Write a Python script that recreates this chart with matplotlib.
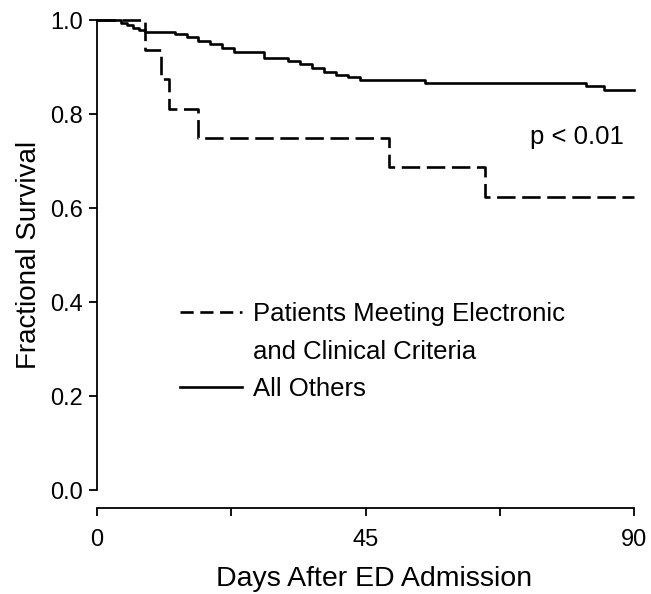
import numpy as np
import matplotlib
matplotlib.use('Agg')
import matplotlib.pyplot as plt
from matplotlib.lines import Line2D

plt.rcParams['font.family'] = ['Liberation Sans', 'DejaVu Sans']

# Kaplan-Meier step data (days, survival)
meeting_days = [0, 8, 10.8, 12, 17, 49, 65, 90]
meeting_surv = [1.0, 0.9375, 0.875, 0.8125, 0.75, 0.6875, 0.625, 0.625]

others_days = [0, 4, 5, 6, 7, 8, 13, 15, 17, 19, 21, 23, 28, 32, 34, 36, 38, 40,
               42, 44, 55, 82, 85, 90]
others_surv = [1.0, 0.995, 0.99, 0.985, 0.98, 0.976, 0.971, 0.964, 0.957, 0.950,
               0.941, 0.933, 0.921, 0.914, 0.907, 0.898, 0.890, 0.884, 0.879,
               0.874, 0.866, 0.860, 0.853, 0.853]

xticks = [0, 22.5, 45, 67.5, 90]
xticklabels = ['0', '', '45', '', '90']
yticks = [0.0, 0.2, 0.4, 0.6, 0.8, 1.0]

fig = plt.figure(figsize=(6.51, 5.94), dpi=100)
ax = fig.add_axes([0.149, 0.175, 0.825, 0.7905])

ax.step(others_days, others_surv, where='post', color='black', lw=1.9,
        clip_on=False)
ax.step(meeting_days, meeting_surv, where='post', color='black', lw=1.9,
        dashes=(7, 2.5), clip_on=False)

ax.set_xlim(0, 90)
ax.set_ylim(0, 1)
ax.set_xticks(xticks)
ax.set_xticklabels(xticklabels)
ax.set_yticks(yticks)
ax.set_yticklabels([f'{v:.1f}' for v in yticks])

for s in ['top', 'right']:
    ax.spines[s].set_visible(False)
ax.spines['bottom'].set_position(('outward', 13))
ax.spines['left'].set_linewidth(1.3)
ax.spines['bottom'].set_linewidth(1.3)
ax.tick_params(axis='both', length=6, width=1.3, labelsize=17, pad=4)
ax.tick_params(axis='x', pad=9)

ax.set_xlabel('Days After ED Admission', fontsize=20.5, labelpad=11)
ax.xaxis.label.set_x(0.515)
ax.set_ylabel('Fractional Survival', fontsize=20, labelpad=6)

ax.text(80.4, 0.752, 'p < 0.01', fontsize=18.5, ha='center', va='center')

handles = [Line2D([], [], color='black', lw=1.9, dashes=(5, 2.5)),
           Line2D([], [], color='none'),
           Line2D([], [], color='black', lw=1.9)]
labels = ['Patients Meeting Electronic', 'and Clinical Criteria', 'All Others']
ax.legend(handles, labels, loc='upper left', bbox_to_anchor=(0.155, 0.40),
          frameon=False, fontsize=18.5, handlelength=2.4, handletextpad=0.45,
          labelspacing=0.52, borderpad=0, borderaxespad=0)

plt.savefig('out.png', dpi=100)
